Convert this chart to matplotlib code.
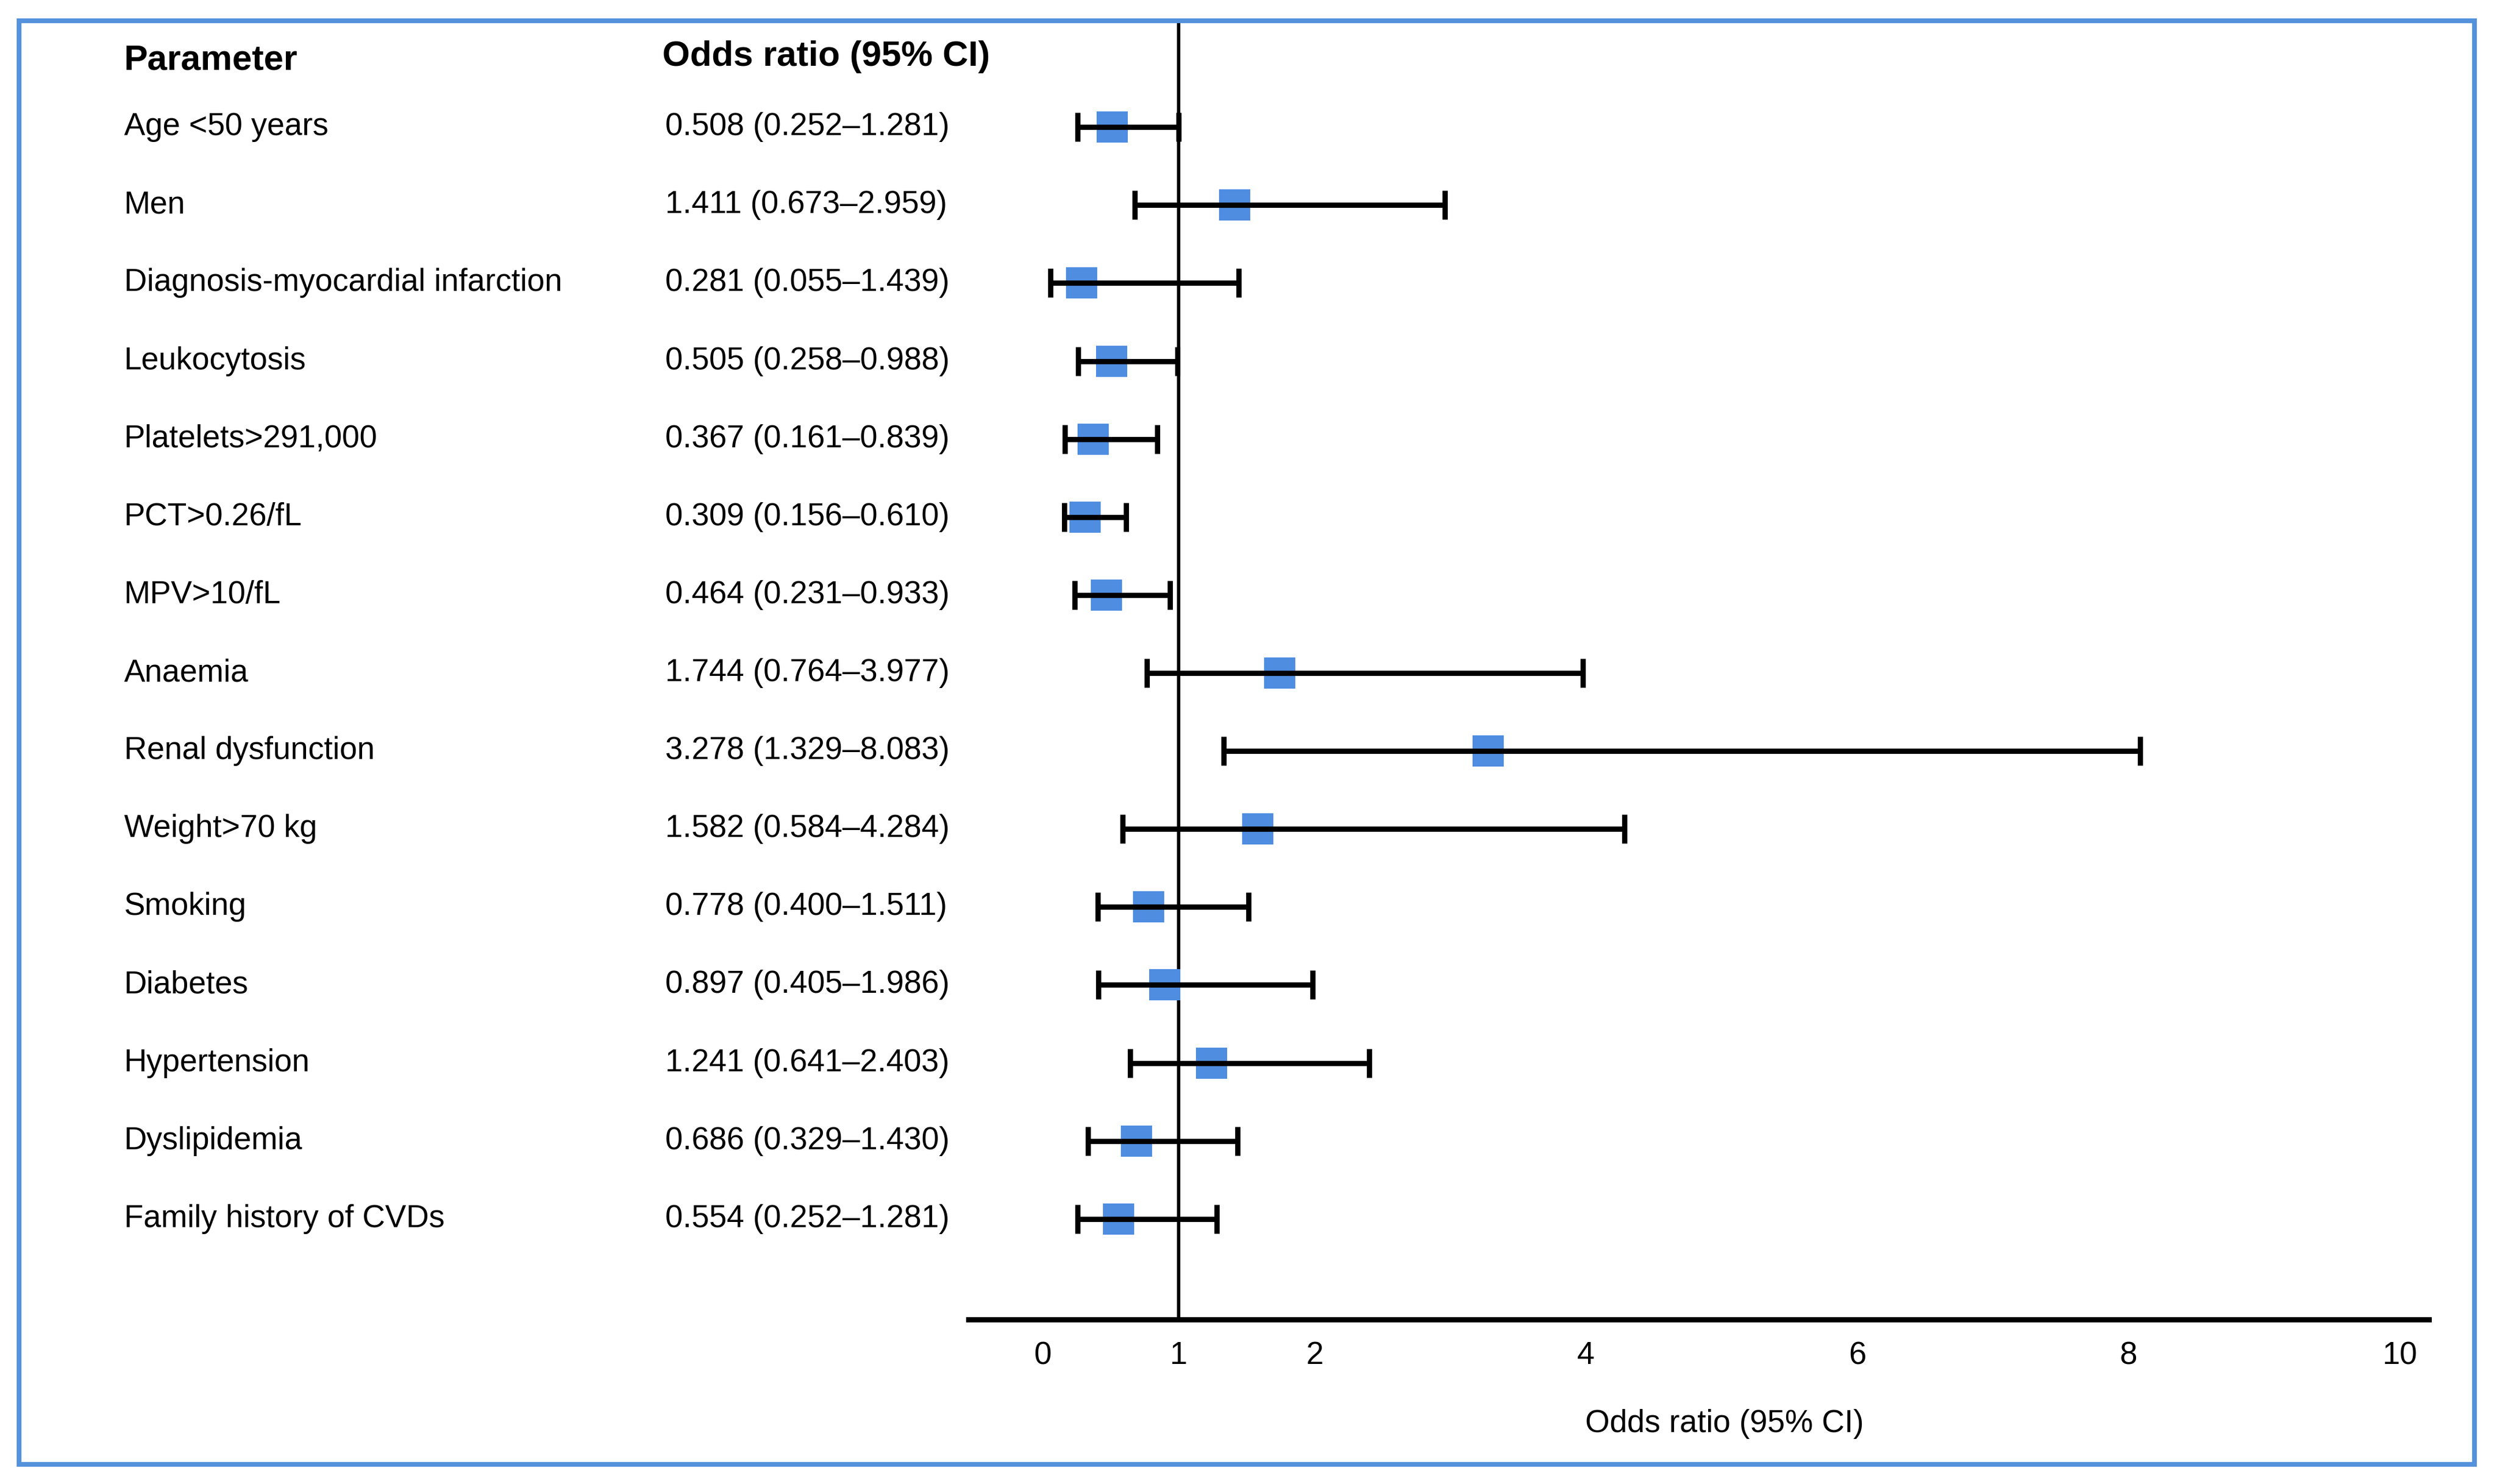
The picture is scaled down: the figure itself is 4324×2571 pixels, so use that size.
import matplotlib
matplotlib.use("Agg")
import matplotlib.pyplot as plt
import matplotlib.transforms as mtransforms
from matplotlib import font_manager
from matplotlib.patches import Rectangle

# data
parameters = ["Age <50 years", "Men", "Diagnosis-myocardial infarction",
              "Leukocytosis", "Platelets>291,000", "PCT>0.26/fL", "MPV>10/fL",
              "Anaemia", "Renal dysfunction", "Weight>70 kg", "Smoking",
              "Diabetes", "Hypertension", "Dyslipidemia", "Family history of CVDs"]
or_text = ["0.508 (0.252\u20131.281)", "1.411 (0.673\u20132.959)", "0.281 (0.055\u20131.439)",
           "0.505 (0.258\u20130.988)", "0.367 (0.161\u20130.839)", "0.309 (0.156\u20130.610)",
           "0.464 (0.231\u20130.933)", "1.744 (0.764\u20133.977)", "3.278 (1.329\u20138.083)",
           "1.582 (0.584\u20134.284)", "0.778 (0.400\u20131.511)", "0.897 (0.405\u20131.986)",
           "1.241 (0.641\u20132.403)", "0.686 (0.329\u20131.430)", "0.554 (0.252\u20131.281)"]
or_est = [0.508, 1.411, 0.281, 0.505, 0.367, 0.309, 0.464, 1.744, 3.278, 1.582,
          0.778, 0.897, 1.241, 0.686, 0.554]
ci_lo = [0.252, 0.673, 0.055, 0.258, 0.161, 0.156, 0.231, 0.764, 1.329, 0.584,
         0.400, 0.405, 0.641, 0.329, 0.252]
# upper whisker as drawn (first row stops at the reference line in the figure)
ci_hi = [1.0, 2.959, 1.439, 0.988, 0.839, 0.610, 0.933, 3.977, 8.083, 4.284,
         1.511, 1.986, 2.403, 1.430, 1.281]
xticks = [0, 1, 2, 4, 6, 8, 10]

# font: narrow Arial-like if we have it
names = {f.name for f in font_manager.fontManager.ttflist}
if "Liberation Sans Narrow" in names:
    fam = ["Liberation Sans Narrow", "DejaVu Sans"]
    k = 1.0
else:
    fam = ["Liberation Sans", "DejaVu Sans"]
    k = 0.82
plt.rcParams["font.family"] = fam
fs = 16 * k
fs_head = 18 * k

blue = "#4f8de0"

fig = plt.figure(figsize=(4324 / 300, 2571 / 300), dpi=300)
ax = fig.add_axes([0.3878, 0.1110, 0.9726 - 0.3878, 0.986 - 0.1110])

rows = list(range(len(parameters)))

# squares first, error bars on top
ax.plot(or_est, rows, "s", ms=13, color=blue, mec="none", zorder=2)
err = [[e - l for e, l in zip(or_est, ci_lo)], [h - e for h, e in zip(ci_hi, or_est)]]
ax.errorbar(or_est, rows, xerr=err, fmt="none", ecolor="black", elinewidth=2.2,
            capsize=6, capthick=2.2, zorder=3)
ax.axvline(1, color="black", lw=1.4, zorder=1)

ax.set_xlim(-0.552, 10.211)
ax.set_ylim(15.287, -1.364)
ax.set_xticks(xticks)
ax.set_xticklabels([str(t) for t in xticks])
ax.set_yticks([])
ax.tick_params(axis="x", length=0, pad=9, labelsize=fs)
for s in ["top", "right", "left"]:
    ax.spines[s].set_visible(False)
ax.spines["bottom"].set_linewidth(2.2)

ax.set_xlabel("Odds ratio (95% CI)", fontsize=fs)
ax.xaxis.label.set_va("center")
ax.xaxis.set_label_coords(0.518, -0.0805)

# text columns
tr = mtransforms.blended_transform_factory(fig.transFigure, ax.transData)
ax.text(0.0497, -0.85, "Parameter", transform=tr, fontsize=fs_head,
        fontweight="bold", va="center", ha="left")
ax.text(0.2653, -0.9, "Odds ratio (95% CI)", transform=tr, fontsize=fs_head,
        fontweight="bold", va="center", ha="left")
for i in rows:
    ax.text(0.0497, i, parameters[i], transform=tr, fontsize=fs, va="center", ha="left")
    ax.text(0.2665, i, or_text[i], transform=tr, fontsize=fs, va="center", ha="left")

# blue frame around the whole figure
fig.patches.append(Rectangle((0.0077, 0.0134), 0.991 - 0.0077, 0.986 - 0.0134,
                             transform=fig.transFigure, fill=False,
                             edgecolor="#5592dc", lw=2.0))

fig.savefig("out.png", dpi=300)
